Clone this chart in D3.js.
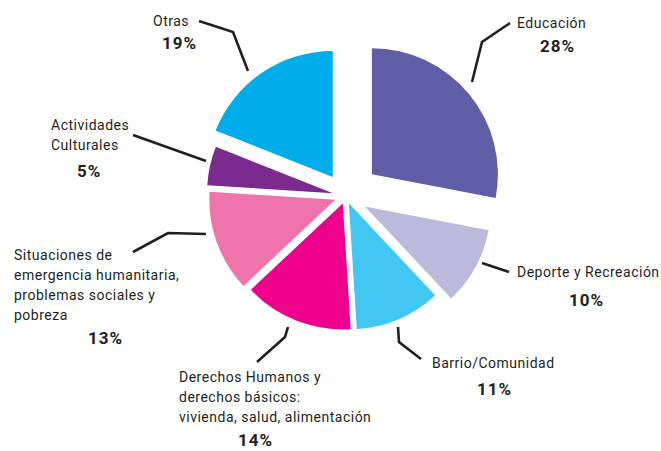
<!DOCTYPE html>
<html lang="es">
<head>
  <meta charset="UTF-8">
  <title>Pie</title>
  <style>
    body { margin: 0; background: #fff; }
    text { font-family: Roboto, "Open Sans", sans-serif; fill: #231f20; }
  </style>
</head>
<body>
  <div id="svg"></div>
<script src="https://cdn.jsdelivr.net/npm/d3@7"></script>
<script>
  // datos
  const categories = ["Educación", "Deporte y Recreación", "Barrio/Comunidad",
    "Derechos Humanos y derechos básicos", "Situaciones de emergencia humanitaria",
    "Actividades Culturales", "Otras"]
  const values = [28, 10, 11, 14, 13, 5, 19]
  const colors = ["#615ea8", "#bcbadc", "#41c7f2", "#ec008c", "#f074ac", "#7b2a8e", "#00adeb"]

  // lineas de texto de cada etiqueta
  const labelLines = [
    ["Educación"],
    ["Deporte y Recreación"],
    ["Barrio/Comunidad"],
    ["Derechos Humanos y", "derechos básicos:", "vivienda, salud, alimentación"],
    ["Situaciones de", "emergencia humanitaria,", "problemas sociales y", "pobreza"],
    ["Actividades", "Culturales"],
    ["Otras"]
  ]

  const width = 661, height = 451
  const cx = 345.7, cy = 196, radius = 126
  // cuanto se separa cada porcion del centro
  const explode = [34, 22, 8, 8, 11, 13, 23]

  // posicion de las etiquetas: x, primera linea, x del %, y del %, linea guia
  const layout = [
    {x: 517, y: 28, px: 540, py: 52, line: [[510, 23], [482, 42], [472, 82]]},
    {x: 517, y: 277, px: 569, py: 306, line: [[482, 263], [509, 272]]},
    {x: 432, y: 368, px: 477, py: 395, line: [[398, 327], [399, 342], [421, 359]]},
    {x: 179, y: 382, px: 238, py: 446, line: [[288, 327], [285, 337], [257, 362]]},
    {x: 14, y: 260, px: 88, py: 344, line: [[133, 252], [168, 233], [206, 234]]},
    {x: 51, y: 130, px: 77, py: 177, line: [[133, 135], [206, 161]]},
    {x: 153, y: 26, px: 162, py: 49, line: [[199, 21], [233, 32], [248, 71]]}
  ]

  const svg = d3.select("#svg").append("svg").attr("width", width).attr("height", height)

  const pie = d3.pie().sort(null).value(d => d)
  const arc = d3.arc().innerRadius(0).outerRadius(radius)
  const arcs = pie(values)

  svg.append("g").attr("transform", `translate(${cx},${cy})`)
    .selectAll("path").data(arcs).enter().append("path")
    .attr("d", arc)
    .attr("fill", (d, i) => colors[i])
    .attr("transform", (d, i) => {
      const mid = (d.startAngle + d.endAngle) / 2
      return `translate(${explode[i] * Math.sin(mid)},${-explode[i] * Math.cos(mid)})`
    })

  // lineas guia
  svg.selectAll("polyline").data(layout).enter().append("polyline")
    .attr("points", d => d.line.map(p => p.join(",")).join(" "))
    .attr("fill", "none")
    .attr("stroke", "#231f20")
    .attr("stroke-width", 2.6)

  // etiquetas
  const labels = svg.selectAll("g.label").data(layout).enter().append("g").attr("class", "label")
  labels.each(function (d, i) {
    const g = d3.select(this)
    labelLines[i].forEach((t, j) => {
      g.append("text").attr("x", d.x).attr("y", d.y + j * 20)
        .attr("font-size", "14px").attr("letter-spacing", "0.5px").text(t)
    })
    g.append("text").attr("x", d.px).attr("y", d.py)
      .attr("font-size", "17px").attr("font-weight", "bold").attr("letter-spacing", "1px")
      .text(values[i] + "%")
  })
</script>
</body>
</html>
